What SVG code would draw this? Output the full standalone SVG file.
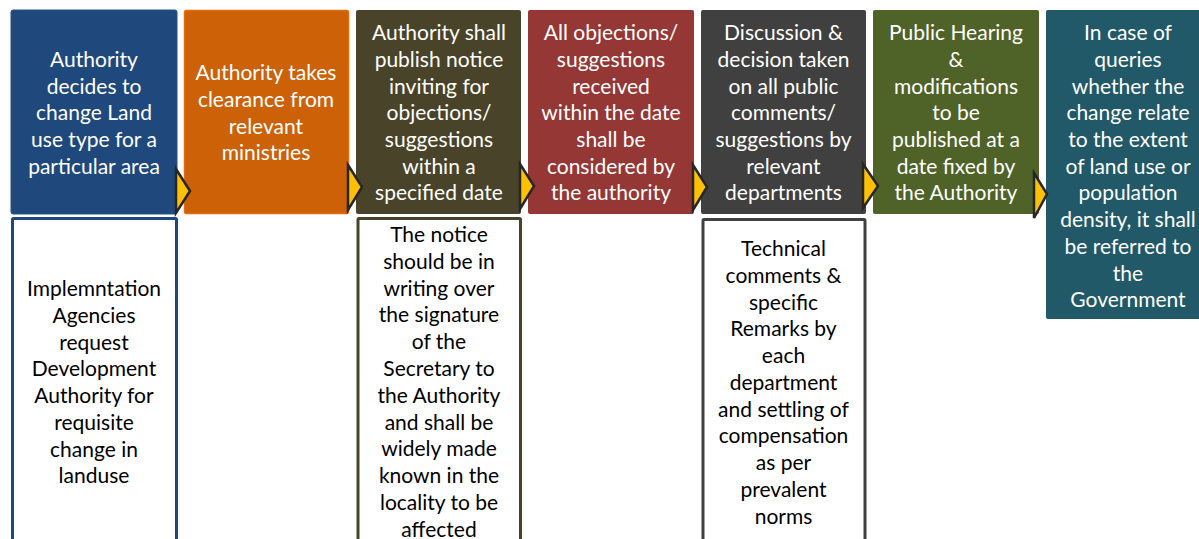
<svg xmlns="http://www.w3.org/2000/svg" width="1199" height="539" viewBox="0 0 1199 539">
<style>
.t{font-family:Lato,"Liberation Sans",sans-serif;font-size:21px;text-anchor:middle}
.w{fill:#ffffff}
.k{fill:#000000}
.arr{fill:#FFC000;stroke:#262626;stroke-width:2.5;stroke-linejoin:miter}
</style>
<rect width="1199" height="539" fill="#ffffff"/>
<g id="step1">
<rect x="11" y="10" width="166" height="204" rx="2" fill="#1F497D" stroke="#2A5288" stroke-width="1"/>
<text class="t w" x="94"><tspan x="94" y="67">Authority</tspan><tspan x="94" y="94">decides to</tspan><tspan x="94" y="120">change Land</tspan><tspan x="94" y="147">use type for a</tspan><tspan x="94" y="174">particular area</tspan></text>
</g>
<g id="note1">
<rect x="12.5" y="218.5" width="164" height="330" rx="1" fill="#ffffff" stroke="#1F497D" stroke-width="3"/>
<text class="t k" x="94"><tspan x="94" y="296">Implemntation</tspan><tspan x="94" y="323">Agencies</tspan><tspan x="94" y="350">request</tspan><tspan x="94" y="376">Development</tspan><tspan x="94" y="403">Authority for</tspan><tspan x="94" y="430">requisite</tspan><tspan x="94" y="457">change in</tspan><tspan x="94" y="483">landuse</tspan></text>
</g>
<g id="step2">
<rect x="184.5" y="10.5" width="164" height="203" rx="2" fill="#CC6108" stroke="#E36C0A" stroke-width="1.5"/>
<text class="t w" x="266"><tspan x="266" y="80">Authority takes</tspan><tspan x="266" y="107">clearance from</tspan><tspan x="266" y="134">relevant</tspan><tspan x="266" y="160">ministries</tspan></text>
</g>
<g id="step3">
<rect x="356" y="10" width="165" height="204" rx="2" fill="#494429"/>
<text class="t w" x="439"><tspan x="439" y="40">Authority shall</tspan><tspan x="439" y="67">publish notice</tspan><tspan x="439" y="94">inviting for</tspan><tspan x="439" y="120">objections/</tspan><tspan x="439" y="147">suggestions</tspan><tspan x="439" y="174">within a</tspan><tspan x="439" y="200">specified date</tspan></text>
</g>
<g id="note3">
<rect x="358" y="218.5" width="162.5" height="330" rx="1" fill="#ffffff" stroke="#494429" stroke-width="3"/>
<text class="t k" x="439"><tspan x="439" y="242">The notice</tspan><tspan x="439" y="269">should be in</tspan><tspan x="439" y="296">writing over</tspan><tspan x="439" y="322">the signature</tspan><tspan x="439" y="349">of the</tspan><tspan x="439" y="376">Secretary to</tspan><tspan x="439" y="403">the Authority</tspan><tspan x="439" y="430">and shall be</tspan><tspan x="439" y="456">widely made</tspan><tspan x="439" y="483">known in the</tspan><tspan x="439" y="510">locality to be</tspan><tspan x="439" y="537">affected</tspan></text>
</g>
<g id="step4">
<rect x="528" y="10" width="166" height="204" rx="2" fill="#953735"/>
<text class="t w" x="611"><tspan x="611" y="40">All objections/</tspan><tspan x="611" y="67">suggestions</tspan><tspan x="611" y="94">received</tspan><tspan x="611" y="120">within the date</tspan><tspan x="611" y="147">shall be</tspan><tspan x="611" y="174">considered by</tspan><tspan x="611" y="200">the authority</tspan></text>
</g>
<g id="step5">
<rect x="701" y="10" width="165" height="204" rx="2" fill="#404040"/>
<text class="t w" x="783.5"><tspan x="783.5" y="40">Discussion &amp;</tspan><tspan x="783.5" y="67">decision taken</tspan><tspan x="783.5" y="94">on all public</tspan><tspan x="783.5" y="120">comments/</tspan><tspan x="783.5" y="147">suggestions by</tspan><tspan x="783.5" y="174">relevant</tspan><tspan x="783.5" y="200">departments</tspan></text>
</g>
<g id="note5">
<rect x="703" y="219.5" width="162" height="330" rx="1" fill="#ffffff" stroke="#404040" stroke-width="3"/>
<text class="t k" x="783.5"><tspan x="783.5" y="256">Technical</tspan><tspan x="783.5" y="283">comments &amp;</tspan><tspan x="783.5" y="310">specific</tspan><tspan x="783.5" y="336">Remarks by</tspan><tspan x="783.5" y="363">each</tspan><tspan x="783.5" y="390">department</tspan><tspan x="783.5" y="417">and settling of</tspan><tspan x="783.5" y="443">compensation</tspan><tspan x="783.5" y="470">as per</tspan><tspan x="783.5" y="497">prevalent</tspan><tspan x="783.5" y="524">norms</tspan></text>
</g>
<g id="step6">
<rect x="873" y="10" width="166" height="204" rx="2" fill="#4F6228"/>
<text class="t w" x="956"><tspan x="956" y="40">Public Hearing</tspan><tspan x="956" y="67">&amp;</tspan><tspan x="956" y="94">modifications</tspan><tspan x="956" y="120">to be</tspan><tspan x="956" y="147">published at a</tspan><tspan x="956" y="174">date fixed by</tspan><tspan x="956" y="200">the Authority</tspan></text>
</g>
<g id="step7">
<rect x="1046" y="10" width="166" height="309" rx="2" fill="#215968"/>
<text class="t w" x="1128"><tspan x="1128" y="40">In case of</tspan><tspan x="1128" y="67">queries</tspan><tspan x="1128" y="94">whether the</tspan><tspan x="1128" y="120">change relate</tspan><tspan x="1128" y="147">to the extent</tspan><tspan x="1128" y="174">of land use or</tspan><tspan x="1128" y="200">population</tspan><tspan x="1128" y="227">density, it shall</tspan><tspan x="1128" y="254">be referred to</tspan><tspan x="1128" y="281">the</tspan><tspan x="1128" y="307">Government</tspan></text>
</g>
<g id="connectors">
<polygon class="arr" points="176,169 190,191 176,213"/>
<polygon class="arr" points="348,165 362,187 348,210"/>
<polygon class="arr" points="520,164 534,186 520,209"/>
<polygon class="arr" points="693,165 707,187 693,210"/>
<polygon class="arr" points="863,164 878,186 863,208"/>
<polygon class="arr" points="1034,173 1047,194 1034,218"/>
</g>
</svg>
